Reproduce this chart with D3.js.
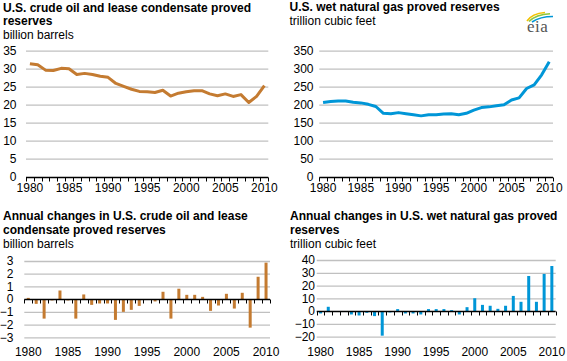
<!DOCTYPE html>
<html>
<head>
<meta charset="utf-8">
<script src="https://cdn.jsdelivr.net/npm/d3@7"></script>
<style>
body { margin: 0; background: #fff; }
svg { display: block; font-family: "Liberation Sans", Arial, sans-serif; }
</style>
</head>
<body>
<div id="chart"></div>
<script>
var years = [1980, 1981, 1982, 1983, 1984, 1985, 1986, 1987, 1988, 1989,
    1990, 1991, 1992, 1993, 1994, 1995, 1996, 1997, 1998, 1999,
    2000, 2001, 2002, 2003, 2004, 2005, 2006, 2007, 2008, 2009, 2010];
var yearLabels = [1980, 1985, 1990, 1995, 2000, 2005, 2010];

// billion barrels
var oilReserves = [31.4, 31.1, 29.6, 29.5, 30.1, 30.0, 28.4, 28.7, 28.4, 27.9,
    27.6, 25.9, 25.1, 24.3, 23.7, 23.6, 23.4, 24.0, 22.4, 23.2,
    23.6, 23.9, 23.9, 23.0, 22.5, 23.0, 22.3, 22.8, 20.6, 22.3, 25.3];
// trillion cubic feet
var gasReserves = [206, 209, 210, 210, 207, 205, 201, 195, 176, 175,
    178, 175, 172, 169, 172, 172, 174, 175, 172, 176,
    185, 192, 194, 197, 200, 213, 219, 245, 255, 283, 319];
var oilChanges = [0.1, -0.37, -1.53, -0.1, 0.68, -0.1, -1.53, 0.37, -0.45, -0.34,
    -0.34, -1.63, -1.0, -0.84, -0.53, 0, -0.18, 0.58, -1.53, 0.82,
    0.34, 0.34, 0.18, -0.92, -0.5, 0.42, -0.74, 0.5, -2.24, 1.76, 2.87];
var gasChanges = [-1.8, 3.4, 0, 0, -2.6, -3.4, -1.3, -3.9, -19.2, -1.0,
    1.6, -1.8, -1.8, -2.6, 1.6, 1.6, 1.6, 0.8, -2.6, 3.1,
    10.1, 4.9, 4.2, 1.8, 4.2, 11.9, 7.3, 27.5, 7.3, 29.1, 35.3];

var oilTicks = [0, 5, 10, 15, 20, 25, 30, 35];
var gasTicks = [0, 50, 100, 150, 200, 250, 300, 350];
var oilChangeTicks = [-3, -2, -1, 0, 1, 2, 3];
var gasChangeTicks = [-20, -10, 0, 10, 20, 30, 40];

var oilColor = '#c47b31';
var gasColor = '#0096d7';
var gridColor = '#c0c0c0';

var svg = d3.select('#chart')
    .append('svg')
    .attr('width', 567)
    .attr('height', 361);

var panels = [
    {
        title: ['U.S. crude oil and lease condensate proved', 'reserves'],
        unit: 'billion barrels', tx: 3, ty: 11.6,
        type: 'line', values: oilReserves, color: oilColor, ticks: oilTicks,
        xr: [26, 268.3], yr: [176.7, 50.7], labelEnd: 16.5, yearY: 192
    },
    {
        title: ['U.S. wet natural gas proved reserves'],
        unit: 'trillion cubic feet', tx: 289.5, ty: 11.3,
        type: 'line', values: gasReserves, color: gasColor, ticks: gasTicks,
        xr: [319.3, 553], yr: [176.7, 50.7], labelEnd: 313.5, yearY: 192
    },
    {
        title: ['Annual changes in U.S. crude oil and lease', 'condensate proved reserves'],
        unit: 'billion barrels', tx: 3, ty: 220.3,
        type: 'bar', values: oilChanges, color: oilColor, ticks: oilChangeTicks,
        xr: [24.3, 270], yr: [337.3, 261], labelEnd: 13.5, yearY: 356
    },
    {
        title: ['Annual changes in U.S. wet natural gas proved', 'reserves'],
        unit: 'trillion cubic feet', tx: 290, ty: 220.3,
        type: 'bar', values: gasChanges, color: gasColor, ticks: gasChangeTicks,
        xr: [316.7, 555.7], yr: [336.7, 260], labelEnd: 315, yearY: 356
    }
];

panels.forEach(draw_panel);
draw_logo();

function draw_panel(p) {
    var g = svg.append('g');

    var x = d3.scaleBand()
        .domain(years)
        .range(p.xr);
    var bw = x.bandwidth();

    var y = d3.scaleLinear()
        .domain(d3.extent(p.ticks))
        .range(p.yr);

    // titles
    var title = g.append('text')
        .attr('x', p.tx)
        .attr('y', p.ty)
        .style('font-size', '12px')
        .style('font-weight', 'bold')
        .style('fill', '#000');
    p.title.forEach(function(line, i) {
        title.append('tspan')
            .attr('x', p.tx)
            .attr('dy', i == 0 ? 0 : 13.6)
            .text(line);
    });
    g.append('text')
        .attr('x', p.tx)
        .attr('y', p.ty + 13.6 * p.title.length)
        .style('font-size', '12px')
        .style('fill', '#000')
        .text(p.unit);

    // gridlines
    var grid = g.append('g')
        .attr('transform', 'translate(' + p.xr[0] + ',0)')
        .call(d3.axisLeft(y)
            .tickValues(p.ticks.filter(function(d) { return d != 0; }))
            .tickSize(-(p.xr[1] - p.xr[0]))
            .tickFormat(''));
    grid.select('.domain').remove();
    grid.selectAll('line')
        .attr('stroke', gridColor)
        .attr('stroke-width', 1.3);

    // y labels
    var ya = g.append('g')
        .attr('transform', 'translate(' + p.labelEnd + ',0)')
        .call(d3.axisLeft(y)
            .tickValues(p.ticks)
            .tickFormat(d3.format('d'))
            .tickSize(0)
            .tickPadding(0));
    ya.select('.domain').remove();
    ya.selectAll('text')
        .style('font-size', '12px')
        .style('font-family', '"Liberation Sans", Arial, sans-serif')
        .style('fill', '#000');

    // marks
    if (p.type == 'line') {
        var line = d3.line()
            .x(function(d, i) { return x(years[i]) + bw / 2; })
            .y(function(d) { return y(d); });
        g.append('path')
            .datum(p.values)
            .attr('d', line)
            .attr('fill', 'none')
            .attr('stroke', p.color)
            .attr('stroke-width', 3)
            .attr('stroke-linejoin', 'round');
    } else {
        g.selectAll('rect.bar')
            .data(p.values)
            .enter()
            .append('rect')
            .attr('class', 'bar')
            .attr('x', function(d, i) { return x(years[i]) + bw / 2 - 1.5; })
            .attr('width', 3)
            .attr('y', function(d) { return Math.min(y(d), y(0)); })
            .attr('height', function(d) { return Math.abs(y(d) - y(0)); })
            .attr('fill', p.color);
    }

    // zero axis with ticks at band edges
    var y0 = Math.round(y(0)) + 0.5;
    g.append('line')
        .attr('x1', p.xr[0])
        .attr('x2', p.xr[1])
        .attr('y1', y0)
        .attr('y2', y0)
        .attr('stroke', '#000')
        .attr('stroke-width', 1.3);
    var edges = years.map(function(d) { return x(d); }).concat([p.xr[1]]);
    g.selectAll('line.tick-edge')
        .data(edges)
        .enter()
        .append('line')
        .attr('class', 'tick-edge')
        .attr('x1', function(d) { return Math.round(d) + 0.5; })
        .attr('x2', function(d) { return Math.round(d) + 0.5; })
        .attr('y1', y0)
        .attr('y2', y0 + 4)
        .attr('stroke', '#000')
        .attr('stroke-width', 1);

    // year labels
    g.selectAll('text.year')
        .data(yearLabels)
        .enter()
        .append('text')
        .attr('class', 'year')
        .attr('x', function(d) { return x(d) + bw / 2; })
        .attr('y', p.yearY)
        .attr('text-anchor', 'middle')
        .style('font-size', '12px')
        .style('fill', '#000')
        .text(function(d) { return d; });
}

function draw_logo() {
    var logo = svg.append('g');
    var arcs = [
        { d: 'M527,21 Q532,13.5 545,12.5', c: '#f2c100' },
        { d: 'M529,21.5 Q536,14.5 550,13.8', c: '#8cc63e' },
        { d: 'M532,22 Q540,16.5 553,16.5', c: '#0096d7' }
    ];
    logo.selectAll('path')
        .data(arcs)
        .enter()
        .append('path')
        .attr('d', function(d) { return d.d; })
        .attr('fill', 'none')
        .attr('stroke', function(d) { return d.c; })
        .attr('stroke-width', 1.6);
    logo.append('text')
        .attr('x', 527)
        .attr('y', 31.5)
        .style('font-family', '"Liberation Serif", "DejaVu Serif", serif')
        .style('font-size', '17px')
        .style('letter-spacing', '0.5px')
        .style('fill', '#555')
        .text('eia');
}
</script>
</body>
</html>
